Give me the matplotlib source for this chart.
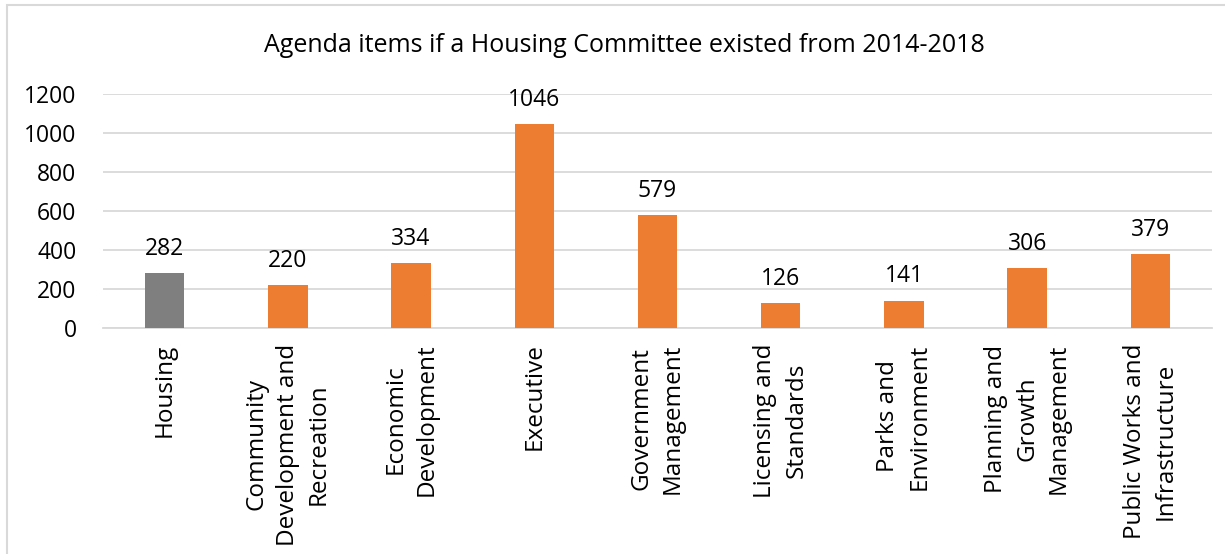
import matplotlib
matplotlib.use('Agg')
import matplotlib.pyplot as plt
from matplotlib.patches import Rectangle

plt.rcParams['font.family'] = ['Open Sans', 'DejaVu Sans']

categories = [
    'Housing',
    'Community\nDevelopment and\nRecreation',
    'Economic\nDevelopment',
    'Executive',
    'Government\nManagement',
    'Licensing and\nStandards',
    'Parks and\nEnvironment',
    'Planning and\nGrowth\nManagement',
    'Public Works and\nInfrastructure',
]
items = [282, 220, 334, 1046, 579, 126, 141, 306, 379]
y_ticks = [0, 200, 400, 600, 800, 1000, 1200]
title = 'Agenda items if a Housing Committee existed from 2014-2018'

orange = '#ED7D31'
grey = '#7F7F7F'
grid_col = '#D9D9D9'
text_col = '#000000'
num_fs = 16.5
cat_fs = 17.5
title_fs = 18

fig = plt.figure(figsize=(12.25, 5.54), dpi=100)
fig.patch.set_facecolor('white')

# outer chart border (runs off the right and bottom)
fig.patches.append(Rectangle((7 / 1225, -0.1), 1.2, 1 - 5 / 554 + 0.1,
                             transform=fig.transFigure, fill=False,
                             edgecolor=grid_col, linewidth=1.5))

ax = fig.add_axes([103 / 1225, 1 - 328 / 554, (1212 - 103) / 1225, (328 - 94) / 554])

x = range(len(categories))
colors = [grey] + [orange] * (len(categories) - 1)
ax.bar(x, items, width=0.32, color=colors, zorder=3)

for xi, v in zip(x, items):
    ax.annotate(str(v), (xi, v), xytext=(0, 13), textcoords='offset points',
                ha='center', va='baseline', fontsize=num_fs, color=text_col)

ax.set_xlim(-0.5, len(categories) - 0.5)
ax.set_ylim(0, 1200)
ax.set_yticks(y_ticks)
ax.yaxis.grid(True, color=grid_col, linewidth=1.3, zorder=0)
ax.set_axisbelow(True)

ax.set_xticks(list(x))
ax.set_xticklabels(categories, rotation=90, fontsize=cat_fs, color=text_col,
                   linespacing=1.4, multialignment='center')
ax.tick_params(axis='x', length=0, pad=11)
ax.tick_params(axis='y', length=0, pad=19, labelsize=num_fs, labelcolor=text_col)

for side in ['top', 'right', 'left']:
    ax.spines[side].set_visible(False)
ax.spines['bottom'].set_color(grid_col)
ax.spines['bottom'].set_linewidth(1.3)

fig.text(624.5 / 1225, 1 - 52 / 554, title, ha='center', va='baseline',
         fontsize=title_fs, color=text_col)

fig.savefig('out.png', dpi=100)
